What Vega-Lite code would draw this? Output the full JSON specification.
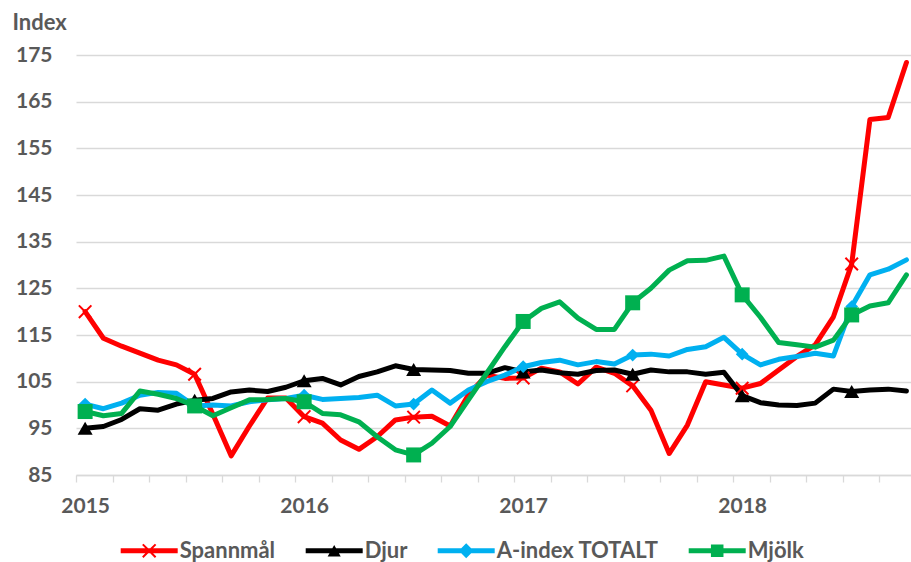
{
  "$schema": "https://vega.github.io/schema/vega-lite/v6.json",
  "width": 835,
  "height": 420,
  "autosize": {"type": "none"},
  "padding": {"left": 76, "top": 55, "right": 0, "bottom": 87},
  "background": "white",
  "data": {"values": [
    {"m":0,"s":"Spannmål","v":120.0},{"m":1,"s":"Spannmål","v":114.3},{"m":2,"s":"Spannmål","v":112.6},{"m":3,"s":"Spannmål","v":111.1},{"m":4,"s":"Spannmål","v":109.6},{"m":5,"s":"Spannmål","v":108.6},{"m":6,"s":"Spannmål","v":106.6},{"m":7,"s":"Spannmål","v":98.0},{"m":8,"s":"Spannmål","v":89.1},{"m":9,"s":"Spannmål","v":95.5},{"m":10,"s":"Spannmål","v":101.5},{"m":11,"s":"Spannmål","v":101.5},
    {"m":12,"s":"Spannmål","v":97.5},{"m":13,"s":"Spannmål","v":96.1},{"m":14,"s":"Spannmål","v":92.5},{"m":15,"s":"Spannmål","v":90.5},{"m":16,"s":"Spannmål","v":93.2},{"m":17,"s":"Spannmål","v":96.8},{"m":18,"s":"Spannmål","v":97.4},{"m":19,"s":"Spannmål","v":97.6},{"m":20,"s":"Spannmål","v":95.5},{"m":21,"s":"Spannmål","v":102.2},{"m":22,"s":"Spannmål","v":106.4},{"m":23,"s":"Spannmål","v":105.7},
    {"m":24,"s":"Spannmål","v":105.8},{"m":25,"s":"Spannmål","v":107.9},{"m":26,"s":"Spannmål","v":107.1},{"m":27,"s":"Spannmål","v":104.5},{"m":28,"s":"Spannmål","v":108.1},{"m":29,"s":"Spannmål","v":106.8},{"m":30,"s":"Spannmål","v":104.1},{"m":31,"s":"Spannmål","v":98.9},{"m":32,"s":"Spannmål","v":89.6},{"m":33,"s":"Spannmål","v":95.7},{"m":34,"s":"Spannmål","v":105.0},{"m":35,"s":"Spannmål","v":104.3},
    {"m":36,"s":"Spannmål","v":103.6},{"m":37,"s":"Spannmål","v":104.6},{"m":38,"s":"Spannmål","v":107.5},{"m":39,"s":"Spannmål","v":110.4},{"m":40,"s":"Spannmål","v":112.9},{"m":41,"s":"Spannmål","v":118.9},{"m":42,"s":"Spannmål","v":130.2},{"m":43,"s":"Spannmål","v":161.2},{"m":44,"s":"Spannmål","v":161.6},{"m":45,"s":"Spannmål","v":173.4},

    {"m":0,"s":"Djur","v":95.0},{"m":1,"s":"Djur","v":95.4},{"m":2,"s":"Djur","v":96.9},{"m":3,"s":"Djur","v":99.2},{"m":4,"s":"Djur","v":98.9},{"m":5,"s":"Djur","v":100.2},{"m":6,"s":"Djur","v":101.0},{"m":7,"s":"Djur","v":101.4},{"m":8,"s":"Djur","v":102.8},{"m":9,"s":"Djur","v":103.2},{"m":10,"s":"Djur","v":102.9},{"m":11,"s":"Djur","v":103.8},
    {"m":12,"s":"Djur","v":105.2},{"m":13,"s":"Djur","v":105.7},{"m":14,"s":"Djur","v":104.3},{"m":15,"s":"Djur","v":106.1},{"m":16,"s":"Djur","v":107.1},{"m":17,"s":"Djur","v":108.4},{"m":18,"s":"Djur","v":107.6},{"m":19,"s":"Djur","v":107.5},{"m":20,"s":"Djur","v":107.4},{"m":21,"s":"Djur","v":106.8},{"m":22,"s":"Djur","v":106.8},{"m":23,"s":"Djur","v":108.0},
    {"m":24,"s":"Djur","v":107.1},{"m":25,"s":"Djur","v":107.5},{"m":26,"s":"Djur","v":106.9},{"m":27,"s":"Djur","v":106.6},{"m":28,"s":"Djur","v":107.4},{"m":29,"s":"Djur","v":107.5},{"m":30,"s":"Djur","v":106.6},{"m":31,"s":"Djur","v":107.5},{"m":32,"s":"Djur","v":107.1},{"m":33,"s":"Djur","v":107.1},{"m":34,"s":"Djur","v":106.6},{"m":35,"s":"Djur","v":107.0},
    {"m":36,"s":"Djur","v":102.0},{"m":37,"s":"Djur","v":100.5},{"m":38,"s":"Djur","v":100.0},{"m":39,"s":"Djur","v":99.9},{"m":40,"s":"Djur","v":100.4},{"m":41,"s":"Djur","v":103.4},{"m":42,"s":"Djur","v":102.9},{"m":43,"s":"Djur","v":103.2},{"m":44,"s":"Djur","v":103.4},{"m":45,"s":"Djur","v":103.0},

    {"m":0,"s":"A-index TOTALT","v":100.2},{"m":1,"s":"A-index TOTALT","v":99.2},{"m":2,"s":"A-index TOTALT","v":100.4},{"m":3,"s":"A-index TOTALT","v":102.1},{"m":4,"s":"A-index TOTALT","v":102.7},{"m":5,"s":"A-index TOTALT","v":102.5},{"m":6,"s":"A-index TOTALT","v":99.8},{"m":7,"s":"A-index TOTALT","v":100.0},{"m":8,"s":"A-index TOTALT","v":99.8},{"m":9,"s":"A-index TOTALT","v":100.7},{"m":10,"s":"A-index TOTALT","v":101.1},{"m":11,"s":"A-index TOTALT","v":101.4},
    {"m":12,"s":"A-index TOTALT","v":102.1},{"m":13,"s":"A-index TOTALT","v":101.2},{"m":14,"s":"A-index TOTALT","v":101.4},{"m":15,"s":"A-index TOTALT","v":101.6},{"m":16,"s":"A-index TOTALT","v":102.1},{"m":17,"s":"A-index TOTALT","v":99.8},{"m":18,"s":"A-index TOTALT","v":100.2},{"m":19,"s":"A-index TOTALT","v":103.2},{"m":20,"s":"A-index TOTALT","v":100.4},{"m":21,"s":"A-index TOTALT","v":103.2},{"m":22,"s":"A-index TOTALT","v":105.0},{"m":23,"s":"A-index TOTALT","v":106.4},
    {"m":24,"s":"A-index TOTALT","v":108.2},{"m":25,"s":"A-index TOTALT","v":109.1},{"m":26,"s":"A-index TOTALT","v":109.6},{"m":27,"s":"A-index TOTALT","v":108.6},{"m":28,"s":"A-index TOTALT","v":109.3},{"m":29,"s":"A-index TOTALT","v":108.8},{"m":30,"s":"A-index TOTALT","v":110.7},{"m":31,"s":"A-index TOTALT","v":110.9},{"m":32,"s":"A-index TOTALT","v":110.5},{"m":33,"s":"A-index TOTALT","v":111.9},{"m":34,"s":"A-index TOTALT","v":112.5},{"m":35,"s":"A-index TOTALT","v":114.5},
    {"m":36,"s":"A-index TOTALT","v":110.9},{"m":37,"s":"A-index TOTALT","v":108.6},{"m":38,"s":"A-index TOTALT","v":109.8},{"m":39,"s":"A-index TOTALT","v":110.4},{"m":40,"s":"A-index TOTALT","v":111.1},{"m":41,"s":"A-index TOTALT","v":110.5},{"m":42,"s":"A-index TOTALT","v":121.1},{"m":43,"s":"A-index TOTALT","v":127.9},{"m":44,"s":"A-index TOTALT","v":129.1},{"m":45,"s":"A-index TOTALT","v":131.1},

    {"m":0,"s":"Mjölk","v":98.6},{"m":1,"s":"Mjölk","v":97.7},{"m":2,"s":"Mjölk","v":98.2},{"m":3,"s":"Mjölk","v":103.0},{"m":4,"s":"Mjölk","v":102.3},{"m":5,"s":"Mjölk","v":101.4},{"m":6,"s":"Mjölk","v":99.8},{"m":7,"s":"Mjölk","v":97.7},{"m":8,"s":"Mjölk","v":99.4},{"m":9,"s":"Mjölk","v":101.1},{"m":10,"s":"Mjölk","v":101.2},{"m":11,"s":"Mjölk","v":101.4},
    {"m":12,"s":"Mjölk","v":100.7},{"m":13,"s":"Mjölk","v":98.2},{"m":14,"s":"Mjölk","v":97.9},{"m":15,"s":"Mjölk","v":96.4},{"m":16,"s":"Mjölk","v":93.2},{"m":17,"s":"Mjölk","v":90.4},{"m":18,"s":"Mjölk","v":89.3},{"m":19,"s":"Mjölk","v":91.8},{"m":20,"s":"Mjölk","v":95.4},{"m":21,"s":"Mjölk","v":101.1},{"m":22,"s":"Mjölk","v":106.8},{"m":23,"s":"Mjölk","v":112.5},
    {"m":24,"s":"Mjölk","v":117.9},{"m":25,"s":"Mjölk","v":120.7},{"m":26,"s":"Mjölk","v":122.1},{"m":27,"s":"Mjölk","v":118.6},{"m":28,"s":"Mjölk","v":116.2},{"m":29,"s":"Mjölk","v":116.2},{"m":30,"s":"Mjölk","v":121.9},{"m":31,"s":"Mjölk","v":125.0},{"m":32,"s":"Mjölk","v":128.9},{"m":33,"s":"Mjölk","v":130.9},{"m":34,"s":"Mjölk","v":131.0},{"m":35,"s":"Mjölk","v":131.9},
    {"m":36,"s":"Mjölk","v":123.6},{"m":37,"s":"Mjölk","v":118.8},{"m":38,"s":"Mjölk","v":113.4},{"m":39,"s":"Mjölk","v":112.9},{"m":40,"s":"Mjölk","v":112.4},{"m":41,"s":"Mjölk","v":113.9},{"m":42,"s":"Mjölk","v":119.3},{"m":43,"s":"Mjölk","v":121.2},{"m":44,"s":"Mjölk","v":121.9},{"m":45,"s":"Mjölk","v":127.9}
  ]},
  "encoding": {
    "x": {
      "field": "m", "type": "quantitative",
      "scale": {"domain": [-0.5, 45.25], "nice": false, "zero": false},
      "axis": {
        "title": null,
        "values": [-0.5,1.5,3.5,5.5,7.5,9.5,11.5,13.5,15.5,17.5,19.5,21.5,23.5,25.5,27.5,29.5,31.5,33.5,35.5,37.5,39.5,41.5,43.5],
        "labelExpr": "(datum.value + 0.5) % 12 == 0 ? '' + (2015 + (datum.value + 0.5) / 12) : ''",
        "labelOffset": 9.125,
        "labelFlush": false,
        "labelOverlap": false,
        "labelBound": false,
        "grid": false,
        "domainColor": "#d9d9d9",
        "domainWidth": 1.3,
        "tickColor": "#d9d9d9",
        "tickWidth": 1.3,
        "tickSize": 7,
        "labelPadding": 13,
        "labelFont": "Lato",
        "labelFontSize": 21,
        "labelFontWeight": "bold",
        "labelColor": "#595959"
      }
    },
    "y": {
      "field": "v", "type": "quantitative",
      "scale": {"domain": [85, 175], "nice": false, "zero": false},
      "axis": {
        "values": [85,95,105,115,125,135,145,155,165,175],
        "title": "Index",
        "titleAngle": 0,
        "titleAlign": "left",
        "titleBaseline": "middle",
        "titleX": -64,
        "titleY": -33,
        "titleFont": "Lato",
        "titleFontSize": 22,
        "titleFontWeight": "bold",
        "titleColor": "#595959",
        "domain": false,
        "ticks": false,
        "labelPadding": 24,
        "labelFont": "Lato",
        "labelFontSize": 21,
        "labelFontWeight": "bold",
        "labelColor": "#595959",
        "gridColor": "#d9d9d9",
        "gridWidth": 1.3
      }
    }
  },
  "layer": [
    {
      "mark": {"type": "line", "strokeWidth": 5, "strokeJoin": "round", "strokeCap": "round"},
      "encoding": {
        "color": {"field": "s", "type": "nominal",
          "scale": {"domain": ["Spannmål","Djur","A-index TOTALT","Mjölk"], "range": ["#ff0000","#000000","#00b0f0","#00b050"]},
          "legend": null}
      }
    },
    {
      "transform": [{"filter": "datum.m % 6 == 0"}],
      "mark": {"type": "point", "filled": true, "opacity": 1, "size": 225},
      "encoding": {
        "color": {"field": "s", "type": "nominal",
          "scale": {"domain": ["Spannmål","Djur","A-index TOTALT","Mjölk"], "range": ["#ff0000","#000000","#00b0f0","#00b050"]},
          "legend": null},
        "shape": {"field": "s", "type": "nominal",
          "scale": {"domain": ["Spannmål","Djur","A-index TOTALT","Mjölk"], "range": [
            "M-0.74,-0.93L0,-0.19L0.74,-0.93L0.93,-0.74L0.19,0L0.93,0.74L0.74,0.93L0,0.19L-0.74,0.93L-0.93,0.74L-0.19,0L-0.93,-0.74Z",
            "M0,-0.87L1,0.87L-1,0.87Z",
            "M0,-0.85L0.85,0L0,0.85L-0.85,0Z",
            "M-1,-1L1,-1L1,1L-1,1Z"
          ]},
          "legend": null}
      }
    },
    {
      "transform": [{"filter": "false"}],
      "mark": {"type": "point", "filled": true, "opacity": 1, "size": 3249},
      "encoding": {
        "color": {"field": "s", "type": "nominal",
          "scale": {"domain": ["Spannmål","Djur","A-index TOTALT","Mjölk"], "range": ["#ff0000","#000000","#00b0f0","#00b050"]},
          "legend": {"title": null}},
        "shape": {"field": "s", "type": "nominal",
          "scale": {"domain": ["Spannmål","Djur","A-index TOTALT","Mjölk"], "range": [
            "M-1,-0.088L1,-0.088L1,0.088L-1,0.088Z M-0.2,-0.25L0,-0.05L0.2,-0.25L0.25,-0.2L0.05,0L0.25,0.2L0.2,0.25L0,0.05L-0.2,0.25L-0.25,0.2L-0.05,0L-0.25,-0.2Z",
            "M-1,-0.088L1,-0.088L1,0.088L-1,0.088Z M0,-0.2L0.23,0.2L-0.23,0.2Z",
            "M-1,-0.088L1,-0.088L1,0.088L-1,0.088Z M0,-0.26L0.26,0L0,0.26L-0.26,0Z",
            "M-1,-0.088L1,-0.088L1,0.088L-1,0.088Z M-0.22,-0.22L0.22,-0.22L0.22,0.22L-0.22,0.22Z"
          ]},
          "legend": {"title": null}}
      }
    }
  ],
  "resolve": {"scale": {"color": "independent", "shape": "independent"}},
  "config": {
    "view": {"stroke": null},
    "legend": {
      "orient": "none",
      "legendX": 44.7,
      "legendY": 467,
      "direction": "horizontal",
      "labelFont": "Lato",
      "labelFontSize": 22,
      "labelFontWeight": "bold",
      "labelColor": "#595959",
      "labelOffset": 2,
      "labelLimit": 400,
      "columnPadding": 30,
      "symbolSize": 3249,
      "symbolStrokeWidth": 0,
      "padding": 0
    }
  }
}
